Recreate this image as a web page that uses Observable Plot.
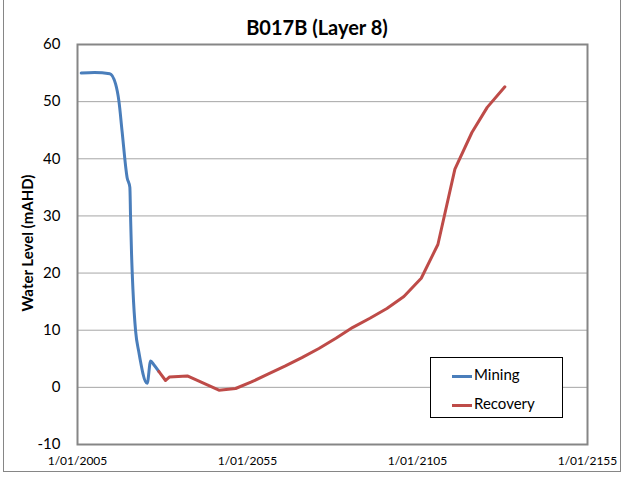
<!DOCTYPE html>
<html><head><meta charset="utf-8">
<script src="https://cdn.jsdelivr.net/npm/d3@7"></script>
<script src="https://cdn.jsdelivr.net/npm/@observablehq/plot@0.6"></script>
<style>
body{margin:0;background:#fff;}
#chart{position:relative;width:624px;height:477px;font-family:Lato,"Open Sans",sans-serif;overflow:hidden;background:#fff;}
#chart svg{position:absolute;left:0;top:0;}
#outer{position:absolute;left:3px;top:-1px;width:616px;height:471px;border:1px solid #868686;}
#title{position:absolute;left:10px;width:614px;top:15px;line-height:24px;text-align:center;font-weight:bold;font-size:20px;color:#000;}
#ylab{position:absolute;left:-73px;top:233px;width:200px;height:20px;line-height:20px;text-align:center;font-weight:bold;font-size:15px;transform:rotate(-90deg);color:#000;}
#legend{position:absolute;left:430px;top:357px;width:131px;height:59px;border:1px solid #000;background:#fff;font-size:15px;}
.item{position:absolute;left:21px;height:20px;line-height:20px;}
.sw{display:inline-block;width:20px;height:3px;vertical-align:middle;margin-right:2px;}
</style>
</head><body><div id="chart"><div id="outer"></div></div>
<script>
// Mining series (decimal years, water level mAHD)
const miningYears = [2006.1, 2010.0, 2014.5, 2016.2, 2017.2, 2018.1, 2019.6, 2020.4, 2020.6, 2020.9, 2021.3, 2022.1, 2023.0, 2025.5, 2026.5, 2027.4, 2028.9];
const miningLevels = [55.0, 55.1, 54.9, 53.1, 50.0, 44.9, 36.7, 35.0, 30.0, 23.3, 17.2, 9.8, 6.3, 0.7, 4.6, 4.0, 2.8];
// Recovery series
const recoveryYears = [2028.9, 2030.9, 2032.0, 2037.3, 2046.6, 2051.5, 2056.0, 2061.0, 2066.0, 2071.0, 2076.0, 2081.0, 2086.0, 2091.0, 2096.0, 2101.0, 2106.1, 2111.0, 2116.0, 2121.0, 2125.5, 2130.7];
const recoveryLevels = [2.8, 1.2, 1.8, 2.0, -0.5, -0.2, 0.9, 2.3, 3.7, 5.2, 6.8, 8.6, 10.5, 12.1, 13.8, 15.9, 19.1, 25.0, 38.2, 44.6, 49.0, 52.6];
// Axis ticks
const xTickYears = [2005, 2055, 2105, 2155];
const yTicks = [-10, 0, 10, 20, 30, 40, 50, 60];
const seriesNames = ["Mining", "Recovery"];
const seriesColors = ["#4A7EBB", "#BE4B48"];

const toDate = y => { const yr = Math.floor(y); const s = Date.UTC(yr,0,1), e = Date.UTC(yr+1,0,1); return new Date(s + (y-yr)*(e-s)); };
const mining = miningYears.map((y,i)=>({date:toDate(y), level:miningLevels[i]}));
const recovery = recoveryYears.map((y,i)=>({date:toDate(y), level:recoveryLevels[i]}));
const xTicks = xTickYears.map(y=>new Date(Date.UTC(y,0,1)));

const chart = Plot.plot({
  width: 624, height: 477,
  marginLeft: 77, marginRight: 37, marginTop: 44, marginBottom: 33,
  style: {fontFamily: "Lato, 'Open Sans', sans-serif", color: "#000", background: "transparent"},
  x: {type: "utc", domain: [xTicks[0], xTicks[xTicks.length-1]]},
  y: {domain: [-10, 60]},
  marks: [
    Plot.gridY(yTicks, {stroke: "#a6a6a6", strokeOpacity: 1, strokeWidth: 1}),
    Plot.line(mining, {x: "date", y: "level", stroke: seriesColors[0], strokeWidth: 3, curve: "monotone-x"}),
    Plot.line(recovery, {x: "date", y: "level", stroke: seriesColors[1], strokeWidth: 3}),
    Plot.frame({stroke: "#868686", strokeWidth: 2}),
    Plot.axisY(yTicks, {tickSize: 0, tickPadding: 17, fontSize: 15, label: null, tickFormat: d => String(d)}),
    Plot.axisX(xTicks, {tickSize: 0, tickPadding: 12, fontSize: 12, label: null, tickFormat: d3.utcFormat("%-d/%m/%Y")})
  ]
});
const root = document.getElementById("chart");
root.appendChild(chart);

const t = document.createElement("div"); t.id = "title"; t.textContent = "B017B (Layer 8)"; root.appendChild(t);
const yl = document.createElement("div"); yl.id = "ylab"; yl.textContent = "Water Level (mAHD)"; root.appendChild(yl);
const lg = document.createElement("div"); lg.id = "legend";
seriesNames.forEach((n,i)=>{
  const it = document.createElement("div"); it.className = "item"; it.style.top = (6 + i*29) + "px";
  const sw = document.createElement("span"); sw.className = "sw"; sw.style.background = seriesColors[i];
  it.appendChild(sw); it.appendChild(document.createTextNode(n)); lg.appendChild(it);
});
root.appendChild(lg);
</script></body></html>
